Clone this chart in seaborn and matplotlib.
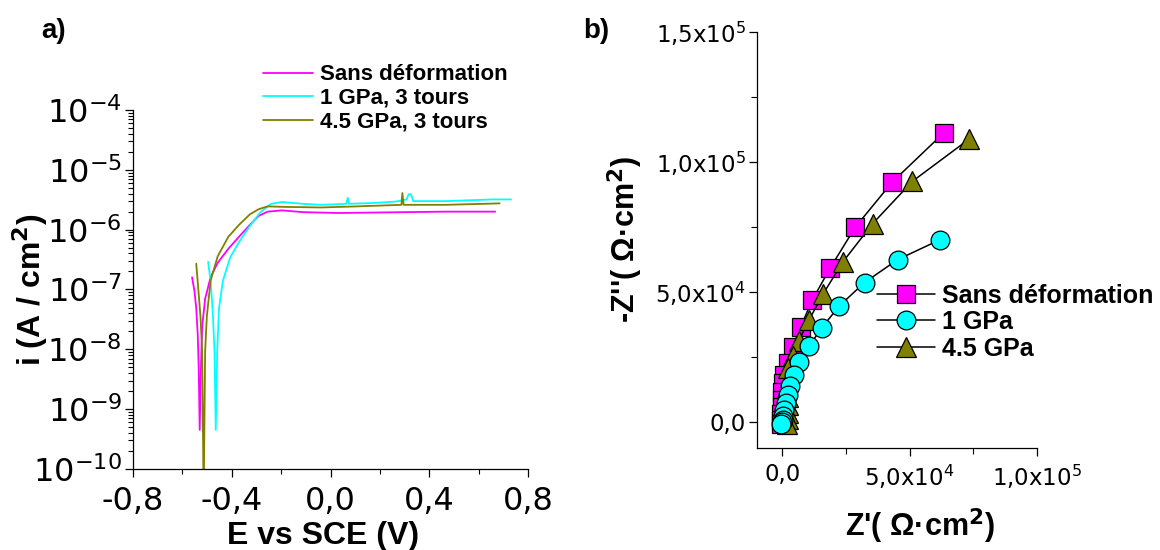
#import the required libraries
import matplotlib
matplotlib.use("Agg")
import pandas as pd
import matplotlib.pyplot as plt
import seaborn as sns
from matplotlib.ticker import FixedLocator, LogLocator, NullFormatter, MultipleLocator

# ---- data, panel a) : polarisation curves (E in V vs SCE, i in A/cm2)
E_sans = [-0.561, -0.551, -0.544, -0.538, -0.534, -0.530, -0.525, -0.520, -0.508, -0.486,
          -0.457, -0.414, -0.371, -0.327, -0.291, -0.255, -0.197, -0.110, 0.034, 0.251,
          0.468, 0.667]
i_sans = [1.6e-7, 9.3e-8, 4.8e-8, 1.8e-8, 4.8e-9, 4.5e-10, 4.8e-9, 2.4e-8, 7.0e-8, 1.6e-7,
          2.8e-7, 4.8e-7, 7.6e-7, 1.2e-6, 1.7e-6, 2.0e-6, 2.1e-6, 1.96e-6, 1.9e-6, 1.95e-6,
          2.0e-6, 2.0e-6]

E_1gpa = [-0.496, -0.486, -0.478, -0.470, -0.465, -0.459, -0.452, -0.436, -0.407, -0.371,
          -0.327, -0.284, -0.241, -0.197, -0.110, -0.038, 0.063, 0.070, 0.074, 0.178,
          0.265, 0.308, 0.316, 0.326, 0.335, 0.468, 0.656, 0.731]
i_1gpa = [2.9e-7, 1.4e-7, 4.8e-8, 9.3e-9, 4.5e-10, 9.3e-9, 4.8e-8, 1.4e-7, 3.4e-7, 6.2e-7,
          1.15e-6, 1.96e-6, 2.7e-6, 2.9e-6, 2.7e-6, 2.6e-6, 2.7e-6, 3.4e-6, 2.7e-6, 2.8e-6,
          2.95e-6, 3.2e-6, 3.9e-6, 3.9e-6, 3.0e-6, 3.0e-6, 3.2e-6, 3.2e-6]

E_45gpa = [-0.544, -0.535, -0.527, -0.520, -0.514, -0.508, -0.501, -0.486, -0.457, -0.414,
           -0.371, -0.327, -0.291, -0.255, -0.183, -0.038, 0.106, 0.287, 0.291, 0.296,
           0.468, 0.685]
i_45gpa = [2.7e-7, 9.3e-8, 3.6e-8, 9.3e-9, 3.0e-11, 9.3e-9, 3.6e-8, 1.4e-7, 3.6e-7, 7.6e-7,
           1.2e-6, 1.8e-6, 2.2e-6, 2.45e-6, 2.4e-6, 2.35e-6, 2.45e-6, 2.6e-6, 4.1e-6, 2.6e-6,
           2.6e-6, 2.75e-6]

names_a = ["Sans déformation", "1 GPa, 3 tours", "4.5 GPa, 3 tours"]

E_ticks = [-0.8, -0.4, 0.0, 0.4, 0.8]
E_ticklabels = ["-0,8", "-0,4", "0,0", "0,4", "0,8"]
i_ticks = [1e-10, 1e-9, 1e-8, 1e-7, 1e-6, 1e-5, 1e-4]
i_ticklabels = [r"$10^{-10}$", r"$10^{-9}$", r"$10^{-8}$", r"$10^{-7}$",
                r"$10^{-6}$", r"$10^{-5}$", r"$10^{-4}$"]

# ---- data, panel b) : Nyquist plots (ohm cm2)
zr_sans = [63450, 43200, 28700, 18900, 11800, 7250, 4230, 2270, 900, 400, 100, -100,
           -200, -300, -400, -500]
zi_sans = [111100, 92140, 74800, 59200, 46750, 36450, 28730, 22600, 17900, 14800, 11500,
           8500, 5500, 3000, 800, -800]

zr_1gpa = [62090, 45320, 32330, 22510, 15560, 10570, 6800, 4830, 3170, 2270, 1510, 900,
           450, 150, -100, -300]
zi_1gpa = [70050, 62330, 53520, 44580, 36180, 29000, 22900, 17890, 13820, 10430, 7050,
           4340, 2300, 700, -300, -1000]

zr_45gpa = [73400, 51060, 35500, 23870, 16010, 10570, 6500, 4230, 2420, 2000, 2200, 2300,
            2300, 2200, 1800]
zi_45gpa = [108700, 92400, 76150, 61500, 49050, 39160, 31030, 25340, 20600, 13000, 9500,
            6500, 3500, 1000, -800]

names_b = ["Sans déformation", "1 GPa", "4.5 GPa"]

z_ticks = [0, 50000, 100000, 150000]
z_ticklabels = ["0,0", r"5,0x10$^{4}$", r"1,0x10$^{5}$", r"1,5x10$^{5}$"]

colors = ["#FF00FF", "#00FFFF", "#808000"]

# ---- style
sns.set_style("ticks")
plt.rcParams['font.family'] = ['Liberation Sans', 'DejaVu Sans']
plt.rcParams['mathtext.fontset'] = 'dejavusans'
plt.rcParams['axes.edgecolor'] = 'black'
plt.rcParams['axes.labelcolor'] = 'black'
plt.rcParams['text.color'] = 'black'
plt.rcParams['xtick.color'] = 'black'
plt.rcParams['ytick.color'] = 'black'
plt.rcParams['xtick.labelcolor'] = 'black'
plt.rcParams['ytick.labelcolor'] = 'black'

fig = plt.figure(figsize=(11.6, 5.5), dpi=100)
ax1 = fig.add_axes([0.1147, 0.1473, 0.3405, 0.6527])
ax2 = fig.add_axes([0.6523, 0.186, 0.2416, 0.7564])

# ---- panel a
ax1.set_yscale("log")
series_a = [(E_sans, i_sans), (E_1gpa, i_1gpa), (E_45gpa, i_45gpa)]
for (e, i), name, c in zip(series_a, names_a, colors):
    df = pd.DataFrame({"E": e, "i": i})
    sns.lineplot(data=df, x="E", y="i", sort=False, estimator=None, color=c,
                 lw=1.3, ax=ax1, label=name)

ax1.set_xlim(-0.8, 0.8)
ax1.set_ylim(1e-10, 1e-4)
ax1.xaxis.set_major_locator(FixedLocator(E_ticks))
ax1.set_xticklabels(E_ticklabels)
ax1.xaxis.set_minor_locator(MultipleLocator(0.2))
ax1.yaxis.set_major_locator(FixedLocator(i_ticks))
ax1.set_yticklabels(i_ticklabels)
ax1.yaxis.set_minor_locator(LogLocator(base=10, subs=range(2, 10), numticks=20))
ax1.yaxis.set_minor_formatter(NullFormatter())
ax1.tick_params(which="major", direction="out", length=6, width=0.9, labelsize=23,
                labelfontfamily="DejaVu Sans", colors="black")
ax1.tick_params(axis="x", which="major", pad=6)
ax1.tick_params(axis="y", which="major", pad=2)
ax1.tick_params(which="minor", direction="out", length=3.5, width=0.8)
ax1.set_xlabel("E vs SCE (V)", fontsize=23, fontweight="bold", color="black")
ax1.set_ylabel(r"i (A / cm$^{\mathbf{2}}$)", fontsize=23, fontweight="bold", color="black")
ax1.xaxis.set_label_coords(0.48, -0.145)
ax1.yaxis.set_label_coords(-0.21, 0.5)
sns.despine(ax=ax1)
for s in ax1.spines.values():
    s.set_linewidth(0.9)
leg1 = ax1.legend(loc="upper left", bbox_to_anchor=(262.5 / 1160, 1 - 64.5 / 550),
                  bbox_transform=fig.transFigure, frameon=False, borderpad=0,
                  borderaxespad=0, handlelength=2.27, handletextpad=0.32,
                  labelspacing=0.11, prop={"size": 16, "weight": "bold"})
for t in leg1.get_texts():
    t.set_color("black")

# ---- panel b
markers = ["s", "o", "^"]
sizes = [12.5, 13.5, 14]
series_b = [(zr_sans, zi_sans), (zr_1gpa, zi_1gpa), (zr_45gpa, zi_45gpa)]
handles = {}
for idx in [0, 2, 1]:
    zr, zi = series_b[idx]
    df = pd.DataFrame({"Zr": zr, "Zi": zi})
    sns.lineplot(data=df, x="Zr", y="Zi", sort=False, estimator=None, color="black",
                 lw=1.1, marker=markers[idx], markersize=sizes[idx],
                 markerfacecolor=colors[idx], markeredgecolor="black",
                 markeredgewidth=0.9, ax=ax2)
    handles[idx] = ax2.lines[-1]

ax2.set_xlim(-10000, 100000)
ax2.set_ylim(-10000, 150000)
ax2.xaxis.set_major_locator(FixedLocator(z_ticks[:3]))
ax2.set_xticklabels(z_ticklabels[:3])
ax2.yaxis.set_major_locator(FixedLocator(z_ticks))
ax2.set_yticklabels(z_ticklabels)
ax2.xaxis.set_minor_locator(MultipleLocator(25000))
ax2.yaxis.set_minor_locator(MultipleLocator(25000))
ax2.tick_params(which="major", direction="out", length=6, width=0.9, labelsize=16.5,
                labelfontfamily="DejaVu Sans", colors="black")
ax2.tick_params(axis="x", which="major", pad=5)
ax2.tick_params(axis="y", which="major", pad=2)
ax2.tick_params(which="minor", direction="out", length=4, width=0.8)
ax2.set_xlabel(r"Z'( Ω·cm$^{\mathbf{2}}$)", fontsize=22, fontweight="bold", color="black")
ax2.set_ylabel(r"-Z''( Ω·cm$^{\mathbf{2}}$)", fontsize=22, fontweight="bold", color="black")
ax2.xaxis.set_label_coords(0.583, -0.142)
ax2.yaxis.set_label_coords(-0.40, 0.5)
sns.despine(ax=ax2)
for s in ax2.spines.values():
    s.set_linewidth(0.9)
leg2 = ax2.legend([handles[0], handles[1], handles[2]], names_b, loc="upper left",
                  bbox_to_anchor=(877 / 1160, 1 - 283.6 / 550),
                  bbox_transform=fig.transFigure, frameon=False, borderpad=0,
                  borderaxespad=0, handlelength=2.32, handletextpad=0.3,
                  labelspacing=0.1, prop={"size": 18, "weight": "bold"})
for t in leg2.get_texts():
    t.set_color("black")

# panel letters
fig.text(41 / 1160, 1 - 38 / 550, "a)", fontsize=20, fontweight="bold", va="baseline")
fig.text(583 / 1160, 1 - 38 / 550, "b)", fontsize=20, fontweight="bold", va="baseline")

fig.savefig("out.png", dpi=100)
